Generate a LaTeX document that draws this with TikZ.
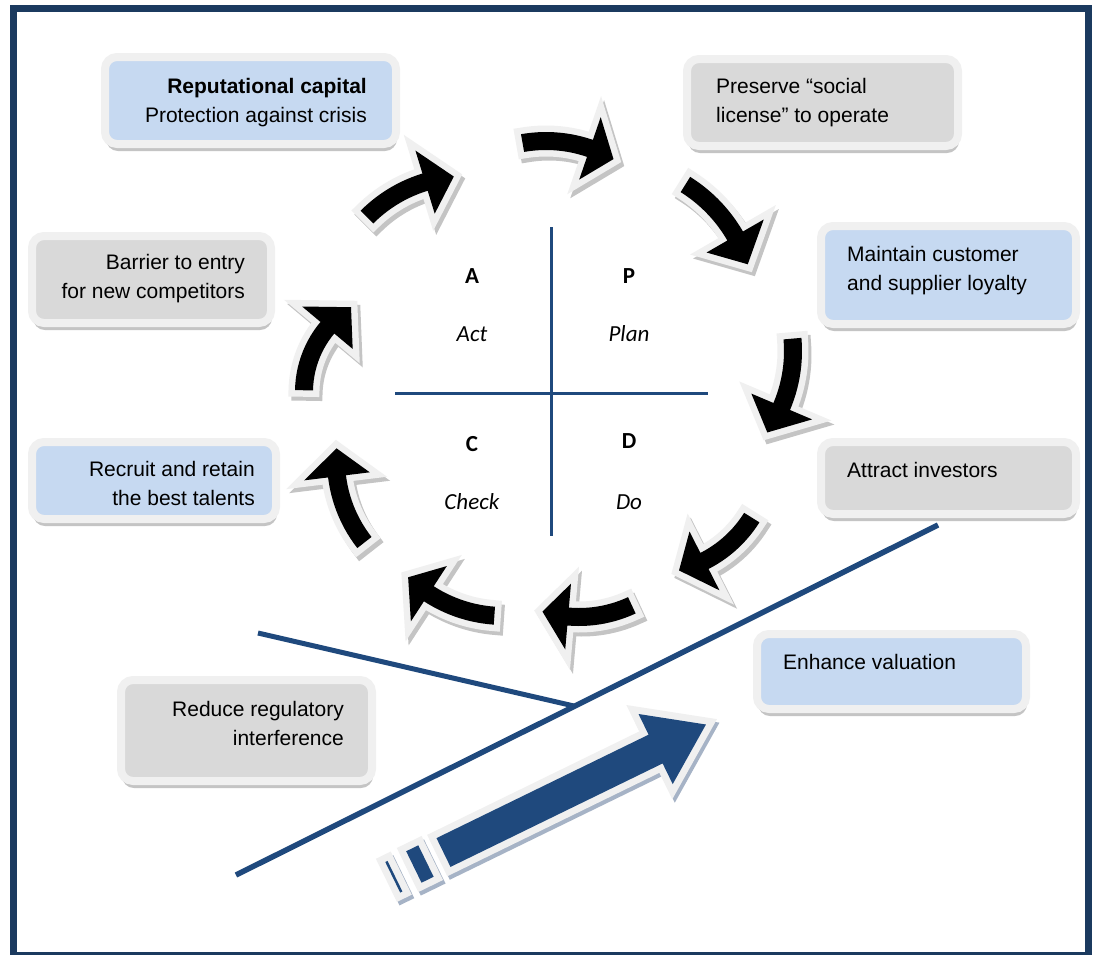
\documentclass[tikz,border=0pt]{standalone}
\usepackage{fontspec}
\setmainfont{Liberation Sans}
\newfontfamily\calib{Carlito}
\usetikzlibrary{shadows}
\definecolor{navy}{HTML}{1B3A5F}
\definecolor{lineblue}{HTML}{1F497D}
\definecolor{boxblue}{HTML}{C6D9F1}
\definecolor{boxgray}{HTML}{D9D9D9}
\definecolor{rimgray}{HTML}{F0F0F0}
\definecolor{shadowgray}{HTML}{C4C4C4}
\definecolor{bigshadow}{HTML}{A6B3C6}
\tikzset{
 box/.style={draw=rimgray, line width=8pt, rounded corners=12pt, inner sep=0pt,
   drop shadow={shadow xshift=1pt, shadow yshift=-7pt, fill=shadowgray, opacity=1}},
 txt/.style={font=\fontsize{21}{28.5}\selectfont, inner sep=0pt},
 pdca/.style={font=\calib\fontsize{23}{27}\selectfont, inner sep=0pt, anchor=center},
 cross/.style={draw=lineblue, line width=3pt},
 bigline/.style={draw=lineblue, line width=5.5pt},
 arrshadow/.style={fill=shadowgray, draw=shadowgray, line width=13pt, line join=miter, shift={(3,4)}},
 arrrim/.style={fill=black, draw=rimgray, line width=13pt, line join=miter},
 arrbody/.style={fill=black},
 bigshad/.style={fill=bigshadow, draw=bigshadow, line width=14pt, line join=miter},
 bigrim/.style={fill=lineblue, draw=rimgray, line width=14pt, line join=miter},
 bigbody/.style={fill=lineblue},
}
\newcommand\arrpath[7]{%
\path[#7] plot[variable=\myt, samples=14, domain=#4:#5] ({#1+(#3+9)*cos(\myt)},{#2+(#3+9)*sin(\myt)})
 -- ({#1+(#3+33)*cos(#5)},{#2+(#3+33)*sin(#5)})
 -- ({#1+#3*cos(#6)},{#2+#3*sin(#6)})
 -- ({#1+(#3-33)*cos(#5)},{#2+(#3-33)*sin(#5)})
 -- plot[variable=\myt, samples=14, domain=#5:#4] ({#1+(#3-9)*cos(\myt)},{#2+(#3-9)*sin(\myt)})
 -- cycle;}
\newcommand\curvarr[6]{%
\arrpath{#1}{#2}{#3}{#4}{#5}{#6}{arrshadow}%
\arrpath{#1}{#2}{#3}{#4}{#5}{#6}{arrrim}%
\arrpath{#1}{#2}{#3}{#4}{#5}{#6}{arrbody}}
\newcommand\bigarrow[1]{%
\path[#1] (0,-16) -- (236,-16) -- (236,-39) -- (292,0) -- (236,39) -- (236,16) -- (0,16) -- cycle;
\path[#1] (-33,-17.5) rectangle (-19.5,17.5);
\path[#1] (-56.5,-17) rectangle (-54,17);}
\begin{document}
\begin{tikzpicture}[x=1pt,y=-1pt]
\useasboundingbox (0,0) rectangle (1100,954);
\fill[white] (0,0) rectangle (1100,954);
% frame
\draw[navy, line width=7pt] (13.5,8.5) rectangle (1088.5,955.5);
% lines
\coordinate (vt) at (551,227); \coordinate (vb) at (551,536);
\coordinate (hl) at (395,393); \coordinate (hr) at (708,393);
\coordinate (L1) at (236,875); \coordinate (L2) at (938,525);
\coordinate (S1) at (258,633); \coordinate (S2) at (574,706);
\draw[cross] (vt) -- (vb);
\draw[cross] (hl) -- (hr);
\draw[bigline] (L1) -- (L2);
\draw[bigline, line width=5pt] (S1) -- (S2);
% boxes
\node[box, fill=boxblue, minimum width=291, minimum height=87] (b1) at (250.5,100.5) {};
\node[box, fill=boxgray, minimum width=271, minimum height=87] (b2) at (822.5,102.5) {};
\node[box, fill=boxblue, minimum width=255, minimum height=98] (b3) at (948.5,275) {};
\node[box, fill=boxgray, minimum width=239, minimum height=87] (b4) at (151.5,279.5) {};
\node[box, fill=boxgray, minimum width=255, minimum height=72] (b5) at (948.5,478) {};
\node[box, fill=boxblue, minimum width=244, minimum height=77] (b6) at (154,480.5) {};
\node[box, fill=boxblue, minimum width=269, minimum height=75] (b7) at (891.5,671.5) {};
\node[box, fill=boxgray, minimum width=251, minimum height=101] (b8) at (246.5,730.5) {};
% texts (base anchor = baseline of last line)
\node[txt, anchor=base east, align=right] (t1) at (367,122) {\textbf{Reputational capital}\\Protection against crisis};
\node[txt, anchor=base west, align=left] (t2) at (716,122) {Preserve “social\\license” to operate};
\node[txt, anchor=base west, align=left] (t3) at (847,290) {Maintain customer\\and supplier loyalty};
\node[txt, anchor=base east, align=right] (t4) at (245,298) {Barrier to entry\\for new competitors};
\node[txt, anchor=base west] (t5) at (847,477) {Attract investors};
\node[txt, anchor=base east, align=right] (t6) at (255,505) {Recruit and retain\\the best talents};
\node[txt, anchor=base west] (t7) at (783,669) {Enhance valuation};
\node[txt, anchor=base east, align=right] (t8) at (344,745) {Reduce regulatory\\interference};
% PDCA letters
\node[pdca] (pA) at (472,276) {\textbf{A}};
\node[pdca] (pAct) at (472,334) {\textit{Act}};
\node[pdca] (pP) at (629,276) {\textbf{P}};
\node[pdca] (pPlan) at (629,334) {\textit{Plan}};
\node[pdca] (pC) at (472,444) {\textbf{C}};
\node[pdca] (pCheck) at (472,502) {\textit{Check}};
\node[pdca] (pD) at (629,441) {\textbf{D}};
\node[pdca] (pDo) at (629,502) {\textit{Do}};
% curved arrows
\curvarr{466}{316}{140}{225}{253}{265}
\curvarr{546}{276}{135}{260}{289}{300}
\curvarr{607}{310}{148}{302}{330}{342}
\curvarr{651}{351}{142}{355}{383}{395}
\curvarr{650}{454}{120}{32}{63}{76}
\curvarr{579}{492}{125}{65}{95}{107}
\curvarr{504}{478}{138}{94}{123}{134}
\curvarr{470}{460}{134}{142}{173}{185}
\curvarr{404}{392}{100}{181}{220}{238}
% big arrow
\begin{scope}[shift={(446,856)}, rotate=26]
\bigarrow{bigshad}
\end{scope}
\begin{scope}[shift={(443.5,852.5)}, rotate=26]
\bigarrow{bigrim}
\bigarrow{bigbody}
\end{scope}
\end{tikzpicture}
\end{document}
